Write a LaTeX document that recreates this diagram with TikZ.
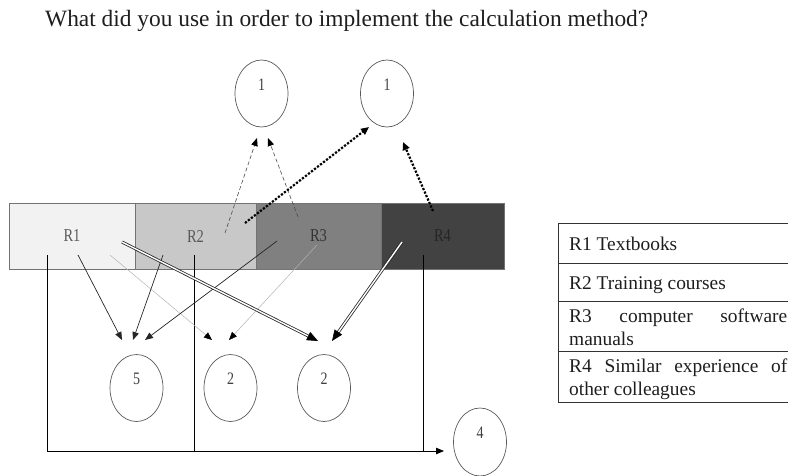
\documentclass[tikz,border=0pt]{standalone}
\usepackage{fontspec}
\setmainfont{Liberation Serif}
\usetikzlibrary{arrows.meta,shapes.geometric,calc}
\definecolor{cA}{HTML}{F2F2F2}
\definecolor{cB}{HTML}{C8C8C8}
\definecolor{cC}{HTML}{808080}
\definecolor{cD}{HTML}{424242}
\definecolor{ink}{HTML}{1E1E1E}
\newcommand\vstretch[1]{\scalebox{1}[1.25]{#1}}
\begin{document}
\begin{tikzpicture}[x=1pt,y=-1pt,
  seg/.style={draw=black!55, line width=0.6pt, minimum width=#1, minimum height=66pt, inner sep=0pt,
    font=\fontsize{14.5}{16}\selectfont},
  bub/.style={ellipse, draw=black!65, line width=0.7pt, minimum width=53pt, minimum height=67pt, inner sep=0pt},
  dig/.style={label={[yshift=9pt, font=\fontsize{14}{16}\selectfont, text=black!75]center:\vstretch{#1}}},
  thinarr/.style={draw=black!85, line width=0.7pt, -{Triangle[length=8pt,width=6.5pt]}},
  greyarr/.style={draw=black!30, line width=0.5pt, -{Triangle[length=8pt,width=6.5pt,color=black]}},
  dasharr/.style={draw=black!70, line width=0.6pt, dash pattern=on 4pt off 2.5pt, -{Triangle[length=8pt,width=6.5pt,color=black]}},
  dotarr/.style={draw=black, line width=2.2pt, dash pattern=on 2.2pt off 1.6pt, -{Triangle[length=8pt,width=7pt]}},
  dblline/.style={draw=black!85, double=white, line width=0.8pt, double distance=1.4pt, shorten >=8pt},
  dbltip/.style={draw=black, line width=0.6pt, -{Triangle[length=11pt,width=9pt]}},
  frame/.style={draw=black, line width=0.8pt},
  legtxt/.style={anchor=base west, inner sep=0pt, text=ink, font=\fontsize{19.4}{22}\selectfont},
  tabline/.style={draw=black!80, line width=0.8pt}
]
\useasboundingbox (0,0) rectangle (788,475);

% title
\node[anchor=base west, inner sep=0pt, text=ink, font=\fontsize{23.4}{26}\selectfont] (title) at (45,26)
  {What did you use in order to implement the calculation method?};

% bar
\node[seg=126pt, fill=cA, text=black!65] (r1) at (72,236) {\vstretch{R1}};
\node[seg=121pt, fill=cB, text=black!65] (r2) at (195.5,236) {\vstretch{R2}};
\node[seg=125pt, fill=cC, text=black!80] (r3) at (318.5,236) {\vstretch{R3}};
\node[seg=123pt, fill=cD, text=black!85] (r4) at (442.5,236) {\vstretch{R4}};

% ellipses
\node[bub, dig=1] (t1) at (261.5,93.5) {};
\node[bub, dig=1] (t2) at (387,93.5) {};
\node[bub, dig=5] (b5) at (136.5,388) {};
\node[bub, dig=2] (b2a) at (230.5,388) {};
\node[bub, dig=2] (b2b) at (324,388) {};
\node[bub, dig=4, minimum height=68pt] (b4) at (480,442) {};

% connector end points
\coordinate (s1) at (225,233);  \coordinate (e1) at (257,138);
\coordinate (s2) at (298,217);  \coordinate (e2) at (268,138);
\coordinate (s3) at (245,223);  \coordinate (e3) at (369,127);
\coordinate (s4) at (433,211);  \coordinate (e4) at (403,142);
\coordinate (s5) at (78,255);   \coordinate (e5) at (122,340);
\coordinate (s6) at (163,255);  \coordinate (e6) at (133,340);
\coordinate (s7) at (277,241);  \coordinate (e7) at (145,340);
\coordinate (s8) at (110,255);  \coordinate (e8) at (212,340);
\coordinate (s9) at (317,245);  \coordinate (e9) at (229,340);
\coordinate (s10) at (122,242); \coordinate (e10) at (318,341);
\coordinate (s11) at (402,242); \coordinate (e11) at (332,341);
\coordinate (f1) at (47,255);   \coordinate (f1c) at (47,451); \coordinate (f1e) at (444,451);
\coordinate (f2) at (194,255);  \coordinate (f2e) at (194,452);
\coordinate (f3) at (423,255);  \coordinate (f3e) at (423,451);

% frame lines
\draw[frame, -{Triangle[length=8pt,width=6.5pt]}] (f1) -- (f1c) -- (f1e);
\draw[frame] (f2) -- (f2e);
\draw[frame] (f3) -- (f3e);

% arrows to top ellipses
\draw[dasharr] (s1) -- (e1);
\draw[dasharr] (s2) -- (e2);
\draw[dotarr] (s3) -- (e3);
\draw[dotarr] (s4) -- (e4);

% arrows to bottom ellipses
\draw[greyarr] (s8) -- (e8);
\draw[greyarr] (s9) -- (e9);
\draw[thinarr] (s5) -- (e5);
\draw[thinarr] (s6) -- (e6);
\draw[thinarr] (s7) -- (e7);
\draw[dblline] (s10) -- (e10);
\draw[dbltip] ($(e10)!11pt!(s10)$) -- (e10);
\draw[dblline] (s11) -- (e11);
\draw[dbltip] ($(e11)!11pt!(s11)$) -- (e11);

% legend table
\draw[tabline] (800,223) -- (558,223) -- (558,402) -- (800,402);
\draw[tabline] (558,263) -- (800,263);
\draw[tabline] (558,301) -- (800,301);
\draw[tabline] (558,351) -- (800,351);
\node[legtxt] (l1) at (569,250) {R1 Textbooks};
\node[legtxt] (l2) at (569,289) {R2 Training courses};
\node[legtxt] (l3) at (569,322) {\makebox[218pt][s]{R3 computer software}};
\node[legtxt] (l3b) at (569,345) {manuals};
\node[legtxt] (l4) at (569,372) {\makebox[218pt][s]{R4 Similar experience of}};
\node[legtxt] (l4b) at (569,395) {other colleagues};
\end{tikzpicture}
\end{document}
